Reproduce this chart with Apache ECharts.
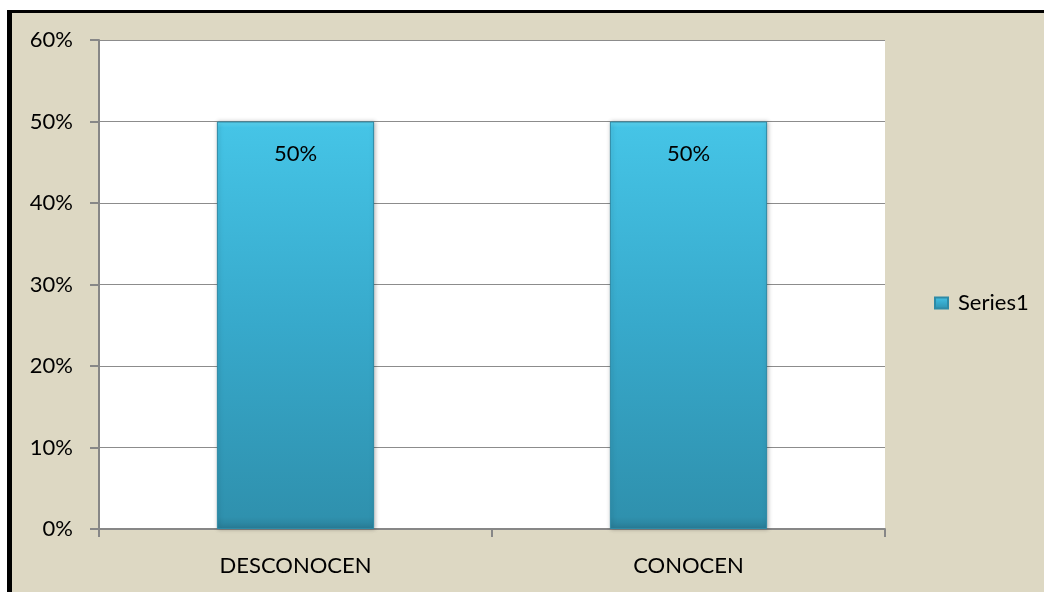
<!DOCTYPE html>
<html><head><meta charset="utf-8">
<script src="https://cdn.jsdelivr.net/npm/echarts@6/dist/echarts.min.js"></script>
<style>html,body{margin:0;padding:0;background:#fff;}#c{width:1044px;height:592px;}</style>
</head><body><div id="c"></div>
<script>
const categories = ['DESCONOCEN', 'CONOCEN'];
const values = [0.5, 0.5];
const seriesName = 'Series1';

const chart = echarts.init(document.getElementById('c'));
const font = "Lato, 'Open Sans', sans-serif";
const fs = 22;
const barGrad = new echarts.graphic.LinearGradient(0, 0, 0, 1, [
  {offset: 0, color: '#5FD6F2'},
  {offset: 0.015, color: '#45C4E6'},
  {offset: 0.5, color: '#37A9CB'},
  {offset: 0.97, color: '#2F91AE'},
  {offset: 1, color: '#2A7F99'}
]);
chart.setOption({
  animation: false,
  graphic: [
    {type: 'rect', z: -10, shape: {x: 7, y: 10, width: 1037, height: 582}, style: {fill: '#DDD8C3'}},
    {type: 'rect', z: -9, shape: {x: 7, y: 10, width: 5, height: 582}, style: {fill: '#000'}},
    {type: 'rect', z: -9, shape: {x: 7, y: 10, width: 1037, height: 3}, style: {fill: '#000'}}
  ],
  grid: {left: 99, top: 40, right: 159, bottom: 63, show: true, backgroundColor: '#fff', borderWidth: 0},
  legend: {
    orient: 'vertical', left: 929, top: 287, itemWidth: 13, itemHeight: 11, itemGap: 4,
    textStyle: {fontFamily: font, fontSize: fs, color: '#000', padding: [0, 0, 0, 5]},
    data: [{name: seriesName, icon: 'rect'}]
  },
  xAxis: {
    type: 'category', data: categories,
    axisLine: {lineStyle: {color: '#878787', width: 2}},
    axisTick: {show: true, length: 8, lineStyle: {color: '#878787', width: 2}},
    axisLabel: {fontFamily: font, fontSize: fs, color: '#000', margin: 26}
  },
  yAxis: {
    type: 'value', min: 0, max: 0.6, interval: 0.1,
    axisLine: {show: true, lineStyle: {color: '#878787', width: 2}},
    axisTick: {show: true, length: 9, lineStyle: {color: '#878787', width: 2}},
    splitLine: {lineStyle: {color: '#8C8C8C', width: 1}},
    axisLabel: {fontFamily: font, fontSize: fs, color: '#000', margin: 26,
      formatter: v => Math.round(v * 100) + '%'}
  },
  series: [{
    name: seriesName, type: 'bar', data: values, barWidth: '40%',
    itemStyle: {color: barGrad, borderColor: '#2E8AA6', borderWidth: 1,
      shadowColor: 'rgba(0,0,0,0.25)', shadowBlur: 4, shadowOffsetX: 1},
    label: {show: true, position: 'insideTop', distance: 21, fontFamily: font, fontSize: fs, color: '#000',
      formatter: p => Math.round(p.value * 100) + '%'}
  }]
});
</script></body></html>
